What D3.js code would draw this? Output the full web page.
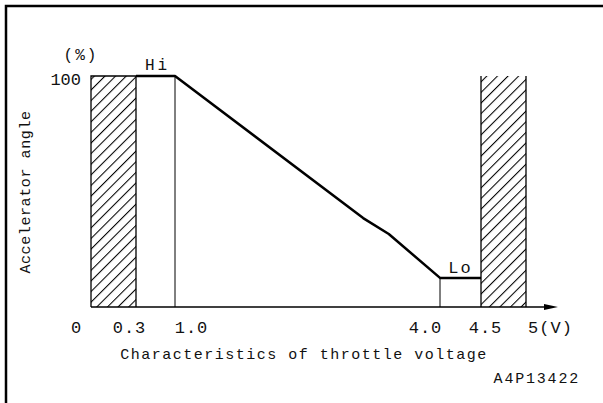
<!DOCTYPE html>
<html>
<head>
<meta charset="utf-8">
<script src="https://cdn.jsdelivr.net/npm/d3@7"></script>
<style>
  body { margin: 0; background: #fff; }
  svg { display: block; }
  text { font-family: "Liberation Mono", "DejaVu Sans Mono", monospace; fill: #111; }
</style>
</head>
<body>
<svg width="603" height="403"></svg>
<script>
// throttle voltage (V) vs accelerator angle (%)
var voltage = [0.3, 1.0, 3.13, 3.42, 4.0, 4.5];
var angle = [100, 100, 38.5, 31.6, 12.6, 12.6];
var hatchZones = [[0, 0.3], [4.5, 5]];
var dropLines = [1.0, 4.0];
var tickValues = [0, 0.3, 1.0, 4.0, 4.5, 5];
var tickLabels = ['0', '0.3', '1.0', '4.0', '4.5', '5(V)'];
var tickShift = [-15, -7, 16, -15, 4, 24];

var svg = d3.select('svg');

// the drawing is schematic, so the voltage axis is piecewise
var xScale = d3.scaleLinear()
  .domain([0, 0.3, 1, 4, 4.5, 5])
  .range([91, 136, 175, 440, 481, 526]);
var yScale = d3.scaleLinear()
  .domain([0, 100])
  .range([307, 76]);

// frame
svg.append('path')
  .attr('d', 'M6,403 V6 H603')
  .attr('fill', 'none')
  .attr('stroke', '#000')
  .attr('stroke-width', 2.5);

var defs = svg.append('defs');
var pat = defs.append('pattern')
  .attr('id', 'hatch')
  .attr('patternUnits', 'userSpaceOnUse')
  .attr('width', 7.5)
  .attr('height', 7.5)
  .attr('patternTransform', 'rotate(45)');
pat.append('line')
  .attr('x1', 0.5).attr('y1', 0)
  .attr('x2', 0.5).attr('y2', 7.5)
  .attr('stroke', '#000')
  .attr('stroke-width', 1.1);

svg.selectAll('rect.zone')
  .data(hatchZones)
  .enter()
  .append('rect')
  .attr('class', 'zone')
  .attr('x', d => xScale(d[0]))
  .attr('y', yScale(100))
  .attr('width', d => xScale(d[1]) - xScale(d[0]))
  .attr('height', yScale(0) - yScale(100))
  .attr('fill', 'url(#hatch)');

// outlines: the upper zone is open at the top
svg.selectAll('path.zoneEdge')
  .data(hatchZones)
  .enter()
  .append('path')
  .attr('class', 'zoneEdge')
  .attr('d', (d, i) => {
    var x0 = xScale(d[0]), x1 = xScale(d[1]);
    var y0 = yScale(0), y1 = yScale(100);
    return i === 0
      ? `M${x0},${y0} V${y1} H${x1} V${y0}`
      : `M${x0},${y0} V${y1} M${x1},${y1} V${y0}`;
  })
  .attr('fill', 'none')
  .attr('stroke', '#000')
  .attr('stroke-width', 1.3);

var points = voltage.map((v, i) => [v, angle[i]]);

svg.selectAll('line.drop')
  .data(dropLines)
  .enter()
  .append('line')
  .attr('class', 'drop')
  .attr('x1', d => xScale(d))
  .attr('x2', d => xScale(d))
  .attr('y1', d => yScale(angle[voltage.indexOf(d)]))
  .attr('y2', yScale(0))
  .attr('stroke', '#000')
  .attr('stroke-width', 1);

var line = d3.line()
  .x(d => xScale(d[0]))
  .y(d => yScale(d[1]));

svg.append('path')
  .attr('d', line(points))
  .attr('fill', 'none')
  .attr('stroke', '#000')
  .attr('stroke-width', 2.5)
  .attr('stroke-linejoin', 'round');

// x axis
var xAxis = d3.axisBottom(xScale)
  .tickValues(tickValues)
  .tickSize(0)
  .tickPadding(14)
  .tickFormat((d, i) => tickLabels[i]);

var gx = svg.append('g')
  .attr('transform', `translate(0, ${yScale(0)})`)
  .call(xAxis);
gx.select('.domain').remove();
gx.selectAll('text')
  .attr('font-family', null)
  .style('font-size', '17px')
  .style('letter-spacing', '1px')
  .attr('dx', (d, i) => tickShift[i]);

var axisEnd = xScale(5) + 32;
svg.append('line')
  .attr('x1', xScale(0))
  .attr('x2', axisEnd - 12)
  .attr('y1', yScale(0))
  .attr('y2', yScale(0))
  .attr('stroke', '#000')
  .attr('stroke-width', 1.3);
svg.append('path')
  .attr('d', `M${axisEnd - 14},${yScale(0) - 3} L${axisEnd},${yScale(0)} L${axisEnd - 14},${yScale(0) + 3} Z`)
  .attr('fill', '#000');

// y axis, only the 100 tick
var yAxis = d3.axisLeft(yScale)
  .tickValues([100])
  .tickSize(0)
  .tickPadding(10);
var gy = svg.append('g')
  .attr('transform', `translate(${xScale(0)}, 0)`)
  .call(yAxis);
gy.select('.domain').remove();
gy.selectAll('text')
  .attr('font-family', null)
  .style('font-size', '17px')
  .attr('dy', '0.5em');

svg.append('text')
  .attr('x', 81)
  .attr('y', 60)
  .attr('text-anchor', 'middle')
  .style('font-size', '16px')
  .style('letter-spacing', '2px')
  .text('(%)');

svg.append('text')
  .attr('x', (xScale(0.3) + xScale(1)) / 2 + 2)
  .attr('y', yScale(100) - 6)
  .attr('text-anchor', 'middle')
  .style('font-size', '16px')
  .style('letter-spacing', '3px')
  .text('Hi');

svg.append('text')
  .attr('x', (xScale(4) + xScale(4.5)) / 2)
  .attr('y', yScale(12.6) - 5)
  .attr('text-anchor', 'middle')
  .style('font-size', '17px')
  .style('letter-spacing', '2px')
  .text('Lo');

svg.append('text')
  .attr('transform', 'translate(30, 192) rotate(-90)')
  .attr('text-anchor', 'middle')
  .style('font-size', '15px')
  .style('letter-spacing', '0.6px')
  .text('Accelerator angle');

svg.append('text')
  .attr('x', 304)
  .attr('y', 359)
  .attr('text-anchor', 'middle')
  .style('font-size', '15px')
  .style('letter-spacing', '1.5px')
  .text('Characteristics of throttle voltage');

svg.append('text')
  .attr('x', 580)
  .attr('y', 383)
  .attr('text-anchor', 'end')
  .style('font-size', '15px')
  .style('letter-spacing', '1.8px')
  .text('A4P13422');
</script>
</body>
</html>
